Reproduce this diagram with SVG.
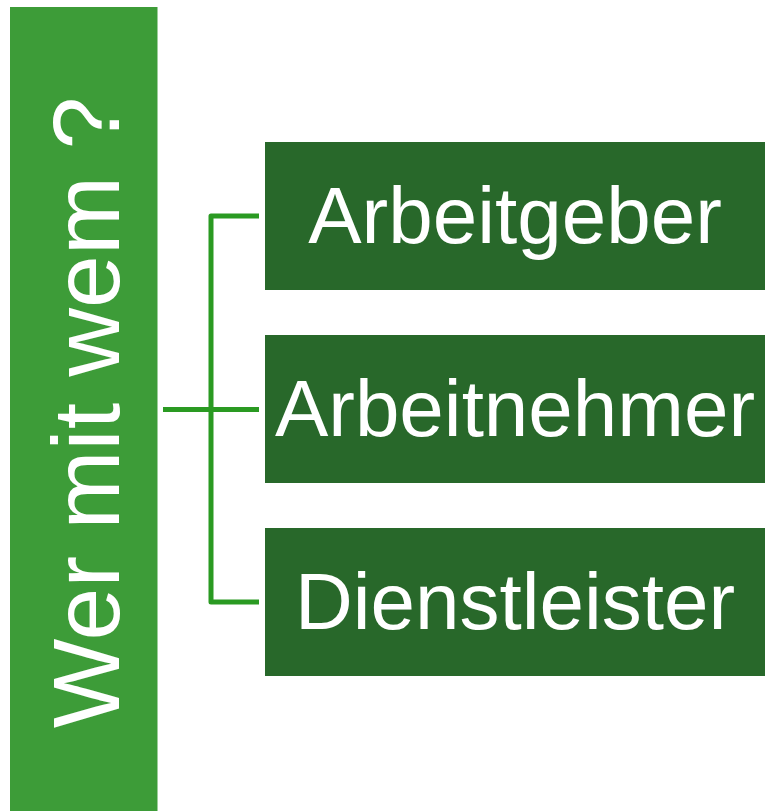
<svg xmlns="http://www.w3.org/2000/svg" width="767" height="811" viewBox="0 0 767 811">
<style>
.box{fill:#28682a}
.lbl{font-family:"Liberation Sans",Arial,sans-serif;font-size:80px;fill:#ffffff;text-anchor:middle}
.conn{stroke:#2a9a22;stroke-width:5;fill:none;stroke-linejoin:round}
</style>
<rect width="767" height="811" fill="#ffffff"/>
<g id="title">
<rect x="10" y="7" width="147.5" height="804" fill="#3d9c38"/>
<text transform="translate(119,412.5) rotate(-90)" style="font-family:'Liberation Sans',Arial,sans-serif;font-size:95px;fill:#ffffff;text-anchor:middle">Wer mit wem ?</text>
</g>
<g id="connectors">
<path class="conn" d="M163,409.5 H259"/>
<path class="conn" d="M259,216 H211 V602 H259"/>
</g>
<g id="arbeitgeber">
<rect class="box" x="265" y="142" width="500" height="148"/>
<text class="lbl" x="515" y="243">Arbeitgeber</text>
</g>
<g id="arbeitnehmer">
<rect class="box" x="265" y="335" width="500" height="148"/>
<text class="lbl" x="515" y="436">Arbeitnehmer</text>
</g>
<g id="dienstleister">
<rect class="box" x="265" y="528" width="500" height="148"/>
<text class="lbl" x="515" y="629">Dienstleister</text>
</g>
</svg>
